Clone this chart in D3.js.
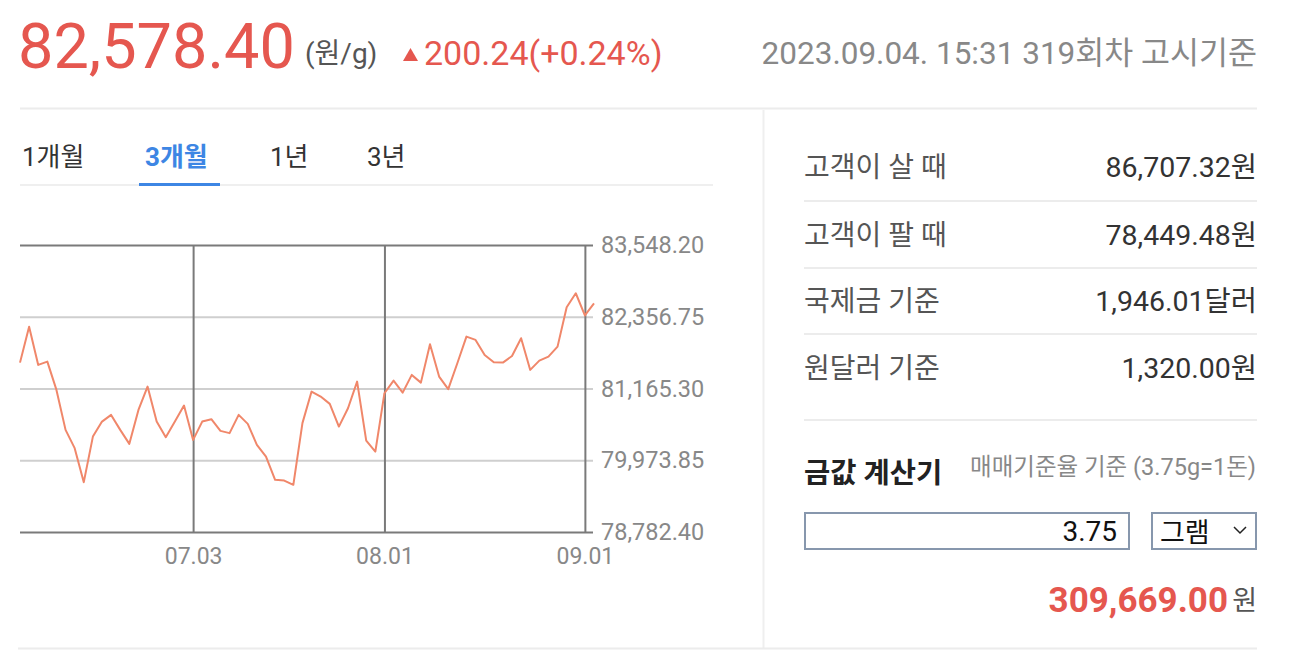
<!DOCTYPE html>
<html>
<head>
<meta charset="utf-8">
<script src="https://cdn.jsdelivr.net/npm/d3@7"></script>
<style>
  html, body { margin: 0; padding: 0; background: #fff; }
  svg { display: block; font-family: Roboto, "Noto Sans CJK KR", sans-serif; }
</style>
</head>
<body>
<svg id="c" width="1292" height="668"></svg>
<script>
// ---- data ----
const prices = [81595, 82192, 81557, 81612, 81142, 80478, 80175, 79610, 80367, 80616,
  80727, 80478, 80246, 80810, 81197, 80616, 80357, 80616, 80882, 80312,
  80616, 80656, 80462, 80424, 80727, 80578, 80229, 80035, 79649, 79637,
  79566, 80590, 81114, 81031, 80910, 80533, 80838, 81280, 80301, 80118,
  81087, 81296, 81097, 81391, 81263, 81900, 81363, 81154, 81585, 82027,
  81972, 81723, 81602, 81595, 81706, 82000, 81474, 81628, 81695, 81861,
  82514, 82747, 82378.16, 82578.40];
const xTickIndex = [19, 40, 62];
const xTickLabels = ["07.03", "08.01", "09.01"];
const yTicks = [78782.40, 79973.85, 81165.30, 82356.75, 83548.20];
const tabs = ["1개월", "3개월", "1년", "3년"];
const infoLabels = ["고객이 살 때", "고객이 팔 때", "국제금 기준", "원달러 기준"];
const infoValues = ["86,707.32원", "78,449.48원", "1,946.01달러", "1,320.00원"];
const header = { price: "82,578.40", unit: "(원/g)", change: "200.24(+0.24%)",
  stamp: "2023.09.04. 15:31 319회차 고시기준" };
const calc = { title: "금값 계산기", note: "매매기준율 기준 (3.75g=1돈)", qty: "3.75",
  unit: "그램", result: "309,669.00", won: "원" };

const svg = d3.select("#c");
const RED = "#e5574f";

// ---- header ----
svg.append("text").attr("x", 18).attr("y", 68).attr("font-size", 63).attr("fill", RED)
  .text(header.price);
svg.append("text").attr("x", 305).attr("y", 63).attr("font-size", 28).attr("fill", "#555")
  .text(header.unit);
svg.append("path").attr("d", "M403,61 L410.5,48 L418,61 Z").attr("fill", RED);
svg.append("text").attr("x", 424).attr("y", 65).attr("font-size", 34).attr("fill", RED)
  .text(header.change);
svg.append("text").attr("x", 1257).attr("y", 64).attr("font-size", 31.5).attr("fill", "#888")
  .attr("text-anchor", "end").text(header.stamp);

// separators
svg.append("line").attr("x1", 20).attr("x2", 1257).attr("y1", 108.5).attr("y2", 108.5)
  .attr("stroke", "#ececec").attr("stroke-width", 2);
svg.append("line").attr("x1", 763.5).attr("x2", 763.5).attr("y1", 110).attr("y2", 648)
  .attr("stroke", "#efefef").attr("stroke-width", 2);
svg.append("line").attr("x1", 18).attr("x2", 1257).attr("y1", 648.5).attr("y2", 648.5)
  .attr("stroke", "#ececec").attr("stroke-width", 2);

// ---- tabs ----
const tabX = [22, 145, 270, 367];
svg.append("line").attr("x1", 20).attr("x2", 713).attr("y1", 185).attr("y2", 185)
  .attr("stroke", "#efefef").attr("stroke-width", 2);
svg.selectAll("text.tab").data(tabs).join("text").attr("class", "tab")
  .attr("x", (d, i) => tabX[i]).attr("y", 166).attr("font-size", 26)
  .attr("font-weight", (d, i) => i === 1 ? 700 : 400)
  .attr("fill", (d, i) => i === 1 ? "#3d86e4" : "#333").text(d => d);
svg.append("rect").attr("x", 139).attr("y", 183).attr("width", 81).attr("height", 3)
  .attr("fill", "#3d86e4");

// ---- chart ----
const x = d3.scaleLinear().domain([0, prices.length - 1]).range([20, 594]);
const y = d3.scaleLinear().domain([78782.40, 83548.20]).range([532, 245]);

const yAxis = svg.append("g").attr("transform", "translate(593,0)")
  .call(d3.axisRight(y).tickValues(yTicks).tickSize(-573).tickPadding(8)
    .tickFormat(d3.format(",.2f")));
yAxis.select(".domain").remove();
yAxis.selectAll(".tick line")
  .attr("stroke", (d, i) => (i === 0 || i === yTicks.length - 1) ? "#7a7a7a" : "#cfcfcf")
  .attr("stroke-width", 2);
yAxis.selectAll(".tick text").attr("font-size", 23.5).attr("fill", "#888")
  .attr("font-family", "Roboto, sans-serif");

const xAxis = svg.append("g").attr("transform", "translate(0,532)")
  .call(d3.axisBottom(x).tickValues(xTickIndex).tickSize(-287).tickPadding(16)
    .tickFormat((d, i) => xTickLabels[i]));
xAxis.select(".domain").remove();
xAxis.selectAll(".tick line").attr("stroke", "#7a7a7a").attr("stroke-width", 2);
xAxis.selectAll(".tick text").attr("font-size", 23).attr("fill", "#888")
  .attr("font-family", "Roboto, sans-serif");

svg.append("path").datum(prices)
  .attr("d", d3.line().x((d, i) => x(i)).y(d => y(d)))
  .attr("fill", "none").attr("stroke", "#f0876a").attr("stroke-width", 2)
  .attr("stroke-linejoin", "round");

// ---- right panel ----
const rowY = [167, 235, 301, 368];
svg.selectAll("text.lbl").data(infoLabels).join("text").attr("class", "lbl")
  .attr("x", 804).attr("y", (d, i) => rowY[i] + 10).attr("font-size", 28)
  .attr("fill", "#555").text(d => d);
svg.selectAll("text.val").data(infoValues).join("text").attr("class", "val")
  .attr("x", 1257).attr("y", (d, i) => rowY[i] + 10).attr("font-size", 28.5)
  .attr("text-anchor", "end").attr("fill", "#333").text(d => d);
[201, 268, 334, 420].forEach(yy => {
  svg.append("line").attr("x1", 804).attr("x2", 1257).attr("y1", yy).attr("y2", yy)
    .attr("stroke", "#ececec").attr("stroke-width", 2);
});

// calculator
svg.append("text").attr("x", 804).attr("y", 483).attr("font-size", 28.5).attr("font-weight", 700)
  .attr("fill", "#222").text(calc.title);
svg.append("text").attr("x", 1256).attr("y", 475).attr("font-size", 23.5).attr("fill", "#888")
  .attr("text-anchor", "end").text(calc.note);
svg.append("rect").attr("x", 805).attr("y", 513).attr("width", 324).attr("height", 36)
  .attr("fill", "#fff").attr("stroke", "#8797ad").attr("stroke-width", 2);
svg.append("text").attr("x", 1117).attr("y", 541).attr("font-size", 28).attr("fill", "#111")
  .attr("text-anchor", "end").text(calc.qty);
svg.append("rect").attr("x", 1152).attr("y", 513).attr("width", 104).attr("height", 36)
  .attr("fill", "#fff").attr("stroke", "#8797ad").attr("stroke-width", 2);
svg.append("text").attr("x", 1160).attr("y", 542).attr("font-size", 27).attr("fill", "#111")
  .text(calc.unit);
svg.append("path").attr("d", "M1234,527 L1240,533 L1246,527").attr("fill", "none")
  .attr("stroke", "#222").attr("stroke-width", 1.5);
svg.append("text").attr("x", 1228).attr("y", 612).attr("font-size", 35).attr("font-weight", 700)
  .attr("fill", RED).attr("text-anchor", "end").text(calc.result);
svg.append("text").attr("x", 1257).attr("y", 610).attr("font-size", 27).attr("fill", "#555")
  .attr("text-anchor", "end").text(calc.won);
</script>
</body>
</html>
